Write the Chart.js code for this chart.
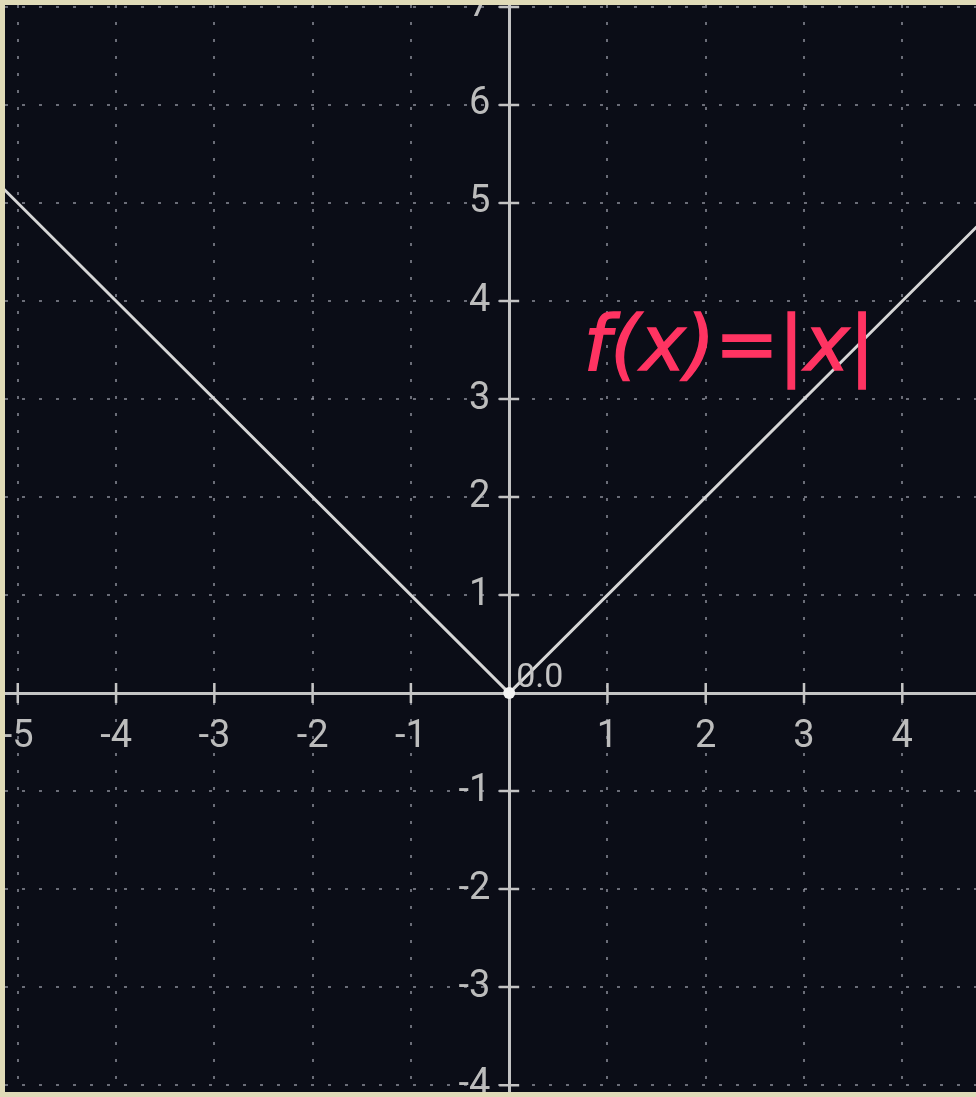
<!DOCTYPE html>
<html>
<head>
<meta charset="utf-8">
<script src="https://cdn.jsdelivr.net/npm/chart.js@4/dist/chart.umd.min.js"></script>
<style>
  html, body { margin:0; padding:0; background:#e0dbb8; }
  canvas { display:block; }
</style>
</head>
<body>
<canvas id="plot" width="976" height="1097"></canvas>
<script>
// f(x) = |x|, sampled at the two ends and the corner
const xVals = [-5.2, 0, 4.8];
const yVals = [5.2, 0, 4.8];

const xTicks = [-5, -4, -3, -2, -1, 0, 1, 2, 3, 4];
const yTicks = [-4, -3, -2, -1, 0, 1, 2, 3, 4, 5, 6, 7];
const xRange = [-5.13, 4.75];
const yRange = [-4.07, 7.02];

const originLabel = '0.0';
const fnLabel = 'f(x)=|x|';

const BG = '#0b0d17';
const FRAME = '#e0dbb8';
const AXIS = '#c4c4c4';
const GRID = 'rgba(160,162,172,0.65)';
const TICK_FONT = { family: 'Roboto', size: 38 };

function noPadding(s){ s.paddingTop = 0; s.paddingBottom = 0; s.paddingLeft = 0; s.paddingRight = 0; }

const plotDecor = {
  id: 'plotDecor',
  beforeDraw(chart){
    const {ctx, chartArea:a} = chart;
    ctx.save();
    ctx.fillStyle = BG;
    ctx.fillRect(a.left, a.top, a.right - a.left, a.bottom - a.top);
    ctx.restore();
  },
  afterDraw(chart){
    const {ctx, chartArea:a, scales:{x, y}} = chart;
    const x0 = x.getPixelForValue(0), y0 = y.getPixelForValue(0);
    ctx.save();
    // small cross ticks on both axes
    ctx.strokeStyle = AXIS;
    ctx.lineWidth = 2.5;
    ctx.beginPath();
    x.ticks.forEach(t => {
      if(t.value === 0) return;
      const px = x.getPixelForValue(t.value);
      ctx.moveTo(px, y0 - 10); ctx.lineTo(px, y0 + 10);
    });
    y.ticks.forEach(t => {
      if(t.value === 0) return;
      const py = y.getPixelForValue(t.value);
      ctx.moveTo(x0 - 10, py); ctx.lineTo(x0 + 10, py);
    });
    ctx.stroke();

    ctx.fillStyle = AXIS;
    ctx.font = '34px Roboto';
    ctx.textAlign = 'left';
    ctx.textBaseline = 'alphabetic';
    ctx.fillText(originLabel, x0 + 7, y0 - 6);

    ctx.fillStyle = '#ff3462';
    ctx.strokeStyle = '#ff3462';
    ctx.lineWidth = 1.5;
    ctx.font = 'italic 76px "DejaVu Sans"';
    ctx.textBaseline = 'middle';
    const fx = x.getPixelForValue(0.76), fy = y.getPixelForValue(3.5);
    ctx.fillText(fnLabel, fx, fy);
    ctx.strokeText(fnLabel, fx, fy);

    // frame hides labels spilling past the plot edge
    ctx.fillStyle = FRAME;
    ctx.fillRect(0, 0, chart.width, a.top);
    ctx.fillRect(0, 0, a.left, chart.height);
    ctx.fillRect(0, a.bottom, chart.width, chart.height - a.bottom);
    ctx.restore();
  }
};

new Chart(document.getElementById('plot'), {
  type: 'line',
  data: {
    datasets: [{
      data: xVals.map((v, i) => ({ x: v, y: yVals[i] })),
      borderColor: '#d6d6d6',
      borderWidth: 3,
      pointRadius: xVals.map(v => v === 0 ? 6 : 0),
      pointBackgroundColor: '#f2f2f2',
      pointBorderWidth: 0,
      tension: 0
    }]
  },
  options: {
    responsive: false,
    animation: false,
    layout: { padding: { left: 5, top: 5, right: 0, bottom: 5 } },
    plugins: { legend: { display: false }, tooltip: { enabled: false } },
    scales: {
      x: {
        type: 'linear',
        position: { y: 0 },
        min: xRange[0], max: xRange[1],
        afterBuildTicks: s => { s.ticks = xTicks.map(v => ({ value: v })); },
        afterFit: noPadding,
        border: { color: AXIS, width: 3, dash: [3, 14] },
        grid: { color: GRID, lineWidth: 2, drawTicks: false },
        ticks: {
          autoSkip: false, maxRotation: 0, padding: 22,
          color: '#bcbcbc', font: TICK_FONT,
          callback: v => v === 0 ? '' : String(v)
        }
      },
      y: {
        type: 'linear',
        position: { x: 0 },
        min: yRange[0], max: yRange[1],
        afterBuildTicks: s => { s.ticks = yTicks.map(v => ({ value: v })); },
        afterFit: noPadding,
        border: { color: AXIS, width: 3, dash: [3, 14] },
        grid: { color: GRID, lineWidth: 2, drawTicks: false },
        ticks: {
          autoSkip: false,
          color: '#bcbcbc', font: TICK_FONT,
          // trailing spaces keep the right-aligned labels clear of the axis
          callback: v => v === 0 ? '' : String(v) + '  '
        }
      }
    }
  },
  plugins: [plotDecor]
});
</script>
</body>
</html>
